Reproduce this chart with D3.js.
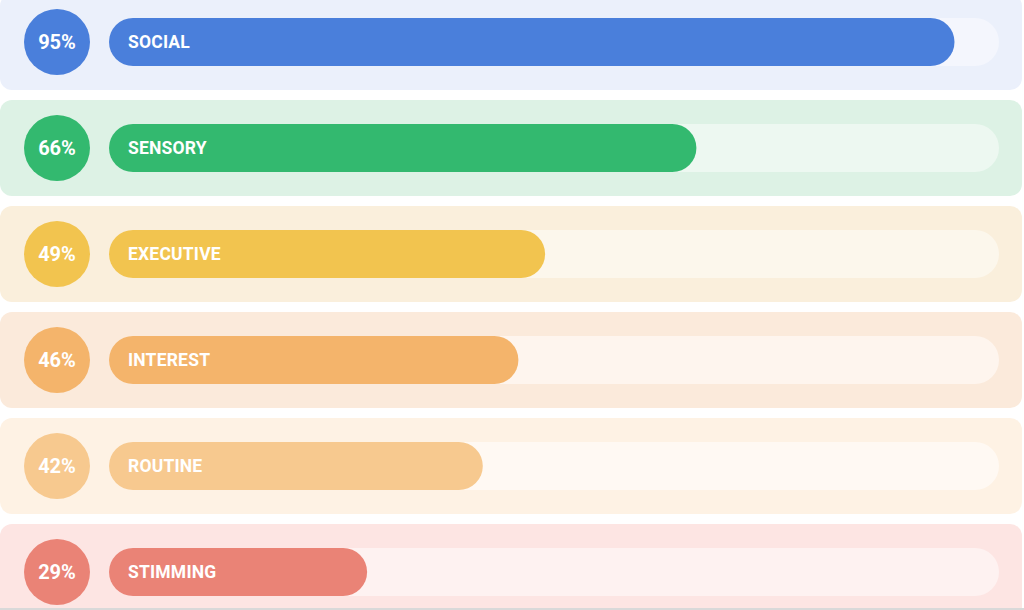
<!DOCTYPE html>
<html>
<head>
<meta charset="utf-8">
<script src="https://cdn.jsdelivr.net/npm/d3@7"></script>
<style>
  html, body { margin: 0; padding: 0; background: #fff; overflow: hidden; }
  text { font-family: Roboto, "Noto Sans", sans-serif; font-weight: 700; }
</style>
</head>
<body>
<div id="chart"></div>
<script>
// data
var categories = ["SOCIAL", "SENSORY", "EXECUTIVE", "INTEREST", "ROUTINE", "STIMMING"];
var values = [95, 66, 49, 46, 42, 29];
var barColors = ["#4a7fdb", "#33b96f", "#f2c44f", "#f4b46b", "#f7c98f", "#ea8376"];
var panelColors = ["#ebf0fb", "#ddf2e5", "#faefdc", "#fbeadb", "#fef2e4", "#fde5e3"];
var trackColors = ["#f4f6fd", "#edf8f1", "#fcf7ec", "#fef5ee", "#fff9f3", "#fef2f1"];

var width = 1024, height = 610;

var svg = d3.select("#chart").append("svg")
    .attr("width", width)
    .attr("height", height);

// rows: centers 42, 148, ... step 106
var y = d3.scaleBand()
    .domain(categories)
    .range([-11, 625])
    .paddingInner(0.094)
    .paddingOuter(0.047);

var x = d3.scaleLinear()
    .domain([0, 100])
    .range([109, 999]);

var trackH = 48;
var row = svg.selectAll(".row")
    .data(categories)
  .enter().append("g")
    .attr("class", "row")
    .attr("transform", function(d) { return "translate(0," + (y(d) + y.bandwidth() / 2) + ")"; });

row.append("rect")
    .attr("x", 0)
    .attr("y", -y.bandwidth() / 2)
    .attr("width", 1022)
    .attr("height", y.bandwidth())
    .attr("rx", 12)
    .style("fill", function(d, i) { return panelColors[i]; });

row.append("rect")
    .attr("x", x(0))
    .attr("y", -trackH / 2)
    .attr("width", x(100) - x(0))
    .attr("height", trackH)
    .attr("rx", trackH / 2)
    .style("fill", function(d, i) { return trackColors[i]; });

row.append("rect")
    .attr("x", x(0))
    .attr("y", -trackH / 2)
    .attr("width", function(d, i) { return x(values[i]) - x(0); })
    .attr("height", trackH)
    .attr("rx", trackH / 2)
    .style("fill", function(d, i) { return barColors[i]; });

row.append("circle")
    .attr("cx", 57)
    .attr("cy", 0)
    .attr("r", 33)
    .style("fill", function(d, i) { return barColors[i]; });

row.append("text")
    .attr("x", 57)
    .attr("dy", "0.36em")
    .attr("text-anchor", "middle")
    .style("font-size", "20px")
    .style("fill", "#fff")
    .text(function(d, i) { return values[i] + "%"; });

row.append("text")
    .attr("x", 128)
    .attr("dy", "0.36em")
    .style("font-size", "17.5px")
    .style("letter-spacing", "0.2px")
    .style("fill", "#fff")
    .text(function(d) { return d; });

// thin bottom edge
svg.append("rect")
    .attr("x", 0).attr("y", 608)
    .attr("width", width).attr("height", 2)
    .style("fill", "#d9d9d9");
</script>
</body>
</html>
